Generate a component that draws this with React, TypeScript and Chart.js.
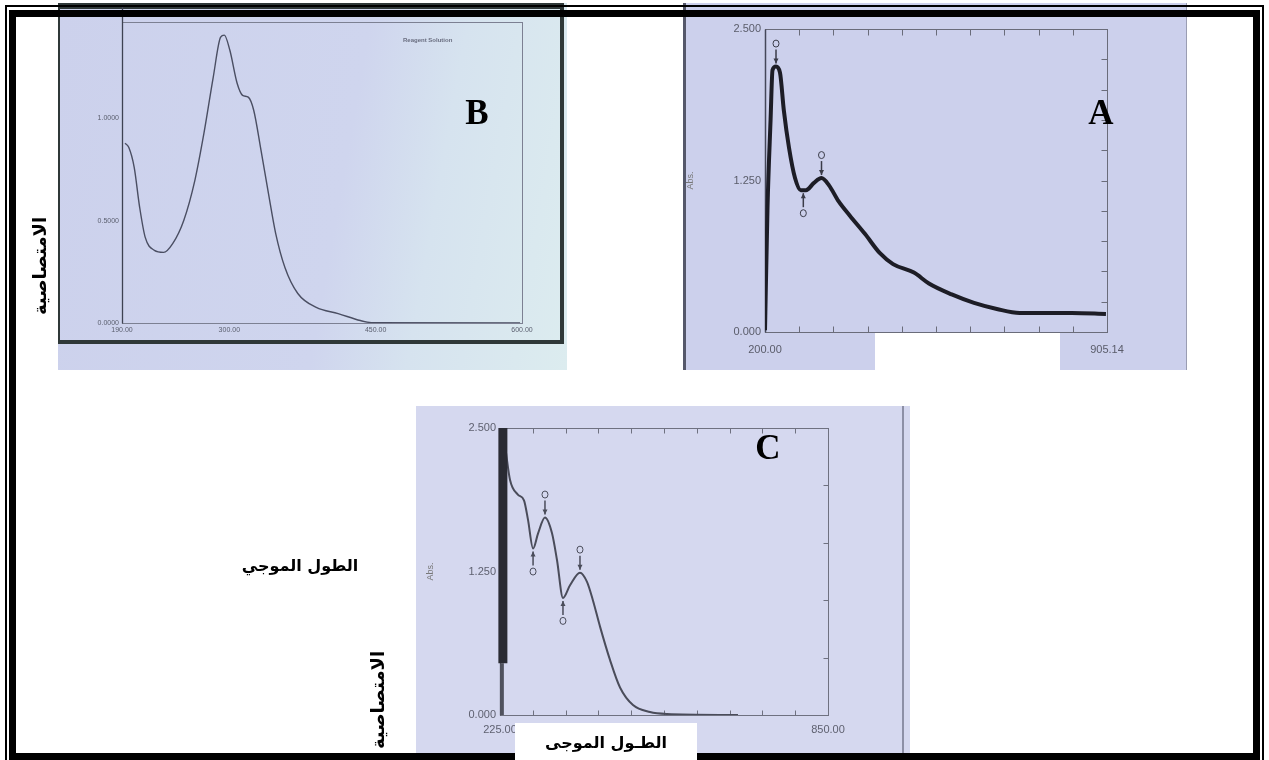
import React, { useEffect, useRef } from "react";
import { Chart, registerables } from "chart.js";

Chart.register(...registerables);

// ---------------- Panel A (top right) ----------------
const aWavelength = [200, 205.2, 211.5, 215.5, 222.7, 230.9, 238.8, 249.5, 261.9, 273.8, 284.5, 301, 316.5, 332, 351.5, 375, 406, 437, 464, 507, 538, 585, 631, 678, 725, 764, 833, 903];
const aAbsorbance = [0.014, 1.03, 1.75, 2.16, 2.19, 2.14, 1.83, 1.52, 1.27, 1.17, 1.17, 1.23, 1.27, 1.21, 1.08, 0.96, 0.81, 0.65, 0.56, 0.49, 0.40, 0.31, 0.24, 0.19, 0.157, 0.157, 0.157, 0.149];
const aXTicks = [200, 905.14];
const aXTickLabels = ["200.00", "905.14"];
const aYTicks = [0, 1.25, 2.5];
const aYTickLabels = ["0.000", "1.250", "2.500"];
const aMarkX = [222.7, 279, 316.5];
const aMarkY = [2.19, 1.17, 1.27];
const aMarkUp = [true, false, true];

// ---------------- Panel B (top left) ----------------
const bWavelength = [193.1, 196.9, 202.5, 208.1, 213.8, 223.2, 232.6, 242.1, 253.3, 264.7, 274, 283.5, 291.1, 294.9, 300.5, 308, 313.6, 319.4, 325, 332.5, 340.1, 347.5, 357, 370.2, 389.1, 411.6, 434.3, 445.5, 598];
const bAbsorbance = [0.878, 0.858, 0.76, 0.565, 0.418, 0.355, 0.345, 0.389, 0.501, 0.697, 0.927, 1.2, 1.396, 1.406, 1.333, 1.171, 1.112, 1.103, 1.039, 0.843, 0.633, 0.438, 0.271, 0.144, 0.076, 0.046, 0.012, 0.002, 0];
const bXTicks = [190, 300, 450, 600];
const bXTickLabels = ["190.00", "300.00", "450.00", "600.00"];
const bYTicks = [0, 0.5, 1.0];
const bYTickLabels = ["0.0000", "0.5000", "1.0000"];

// ---------------- Panel C (bottom) ----------------
const cWavelength = [236, 244, 259, 270.7, 278.4, 288, 297.4, 310.7, 324, 333.6, 345, 358.4, 377.4, 390.8, 402, 415.6, 434.6, 453.7, 478.4, 510.8, 543, 678.5];
const cAbsorbance = [2.3, 2.05, 1.92, 1.87, 1.7, 1.45, 1.58, 1.72, 1.585, 1.35, 1.02, 1.13, 1.24, 1.16, 1.0, 0.77, 0.48, 0.24, 0.087, 0.026, 0.009, 0];
const cNoiseX = [230.5, 230.5];
const cNoiseY = [2.5, 0.45];
const cNoiseTailX = [229.5, 229.5];
const cNoiseTailY = [0.45, 0];
const cXTicks = [225, 850];
const cXTickLabels = ["225.00", "850.00"];
const cYTicks = [0, 1.25, 2.5];
const cYTickLabels = ["0.000", "1.250", "2.500"];
const cMarkX = [288, 310.7, 345, 377.4];
const cMarkY = [1.45, 1.72, 1.02, 1.24];
const cMarkUp = [false, true, false, true];

type Deco = {
  frameColor: string;
  frameWidth: number;
  leftColor?: string;
  leftWidth?: number;
  leftExtendTop?: number;
  tickColor?: string;
  tickLen?: number;
  xDiv?: number;
  yDiv?: number;
  markX?: number[];
  markY?: number[];
  markUp?: boolean[];
  markColor?: string;
};

function makeDeco(d: Deco) {
  return {
    id: "deco",
    beforeDatasetsDraw(chart: any) {
      const { ctx, chartArea: ca, scales } = chart;
      const xs = scales.x;
      const ys = scales.y;
      const L = Math.round(ca.left) + 0.5;
      const T = Math.round(ca.top) + 0.5;
      const R = Math.round(ca.right) + 0.5;
      const B = Math.round(ca.bottom) + 0.5;
      ctx.save();
      ctx.strokeStyle = d.frameColor;
      ctx.lineWidth = d.frameWidth;
      ctx.strokeRect(L, T, R - L, B - T);
      if (d.leftColor) {
        ctx.strokeStyle = d.leftColor;
        ctx.lineWidth = d.leftWidth || 1;
        ctx.beginPath();
        ctx.moveTo(L, d.leftExtendTop !== undefined ? d.leftExtendTop : T);
        ctx.lineTo(L, B);
        ctx.stroke();
      }
      if (d.tickColor) {
        const len = d.tickLen || 5;
        ctx.strokeStyle = d.tickColor;
        ctx.lineWidth = 1;
        ctx.beginPath();
        if (d.xDiv) {
          for (let i = 1; i < d.xDiv; i++) {
            const v = xs.min + ((xs.max - xs.min) * i) / d.xDiv;
            const px = Math.round(xs.getPixelForValue(v)) + 0.5;
            ctx.moveTo(px, T);
            ctx.lineTo(px, T + len);
            ctx.moveTo(px, B);
            ctx.lineTo(px, B - len);
          }
        }
        if (d.yDiv) {
          for (let i = 1; i < d.yDiv; i++) {
            const v = ys.min + ((ys.max - ys.min) * i) / d.yDiv;
            const py = Math.round(ys.getPixelForValue(v)) + 0.5;
            ctx.moveTo(R, py);
            ctx.lineTo(R - len, py);
          }
        }
        ctx.stroke();
      }
      ctx.restore();
    },
    afterDatasetsDraw(chart: any) {
      if (!d.markX) return;
      const { ctx, scales } = chart;
      const xs = scales.x;
      const ys = scales.y;
      ctx.save();
      ctx.strokeStyle = d.markColor || "#333";
      ctx.fillStyle = d.markColor || "#333";
      ctx.lineWidth = 1.5;
      d.markX.forEach((mx, i) => {
        const px = xs.getPixelForValue(mx);
        const py = ys.getPixelForValue(d.markY![i]);
        const dir = d.markUp![i] ? -1 : 1;
        const y0 = py + dir * 3;
        const y1 = py + dir * 17;
        ctx.beginPath();
        ctx.moveTo(px, y0);
        ctx.lineTo(px, y1);
        ctx.stroke();
        ctx.beginPath();
        ctx.moveTo(px, y0);
        ctx.lineTo(px - 2.5, y0 + dir * 5);
        ctx.lineTo(px + 2.5, y0 + dir * 5);
        ctx.closePath();
        ctx.fill();
        ctx.beginPath();
        ctx.ellipse(px, y1 + dir * 6, 3, 3.5, 0, 0, Math.PI * 2);
        ctx.lineWidth = 1;
        ctx.stroke();
        ctx.lineWidth = 1.5;
      });
      ctx.restore();
    },
  };
}

type PanelCfg = {
  width: number;
  height: number;
  plotLeft: number;
  plotTop: number;
  plotRight: number;
  plotBottom: number;
  xMin: number;
  xMax: number;
  yMin: number;
  yMax: number;
  xTicks: number[];
  xTickLabels: string[];
  yTicks: number[];
  yTickLabels: string[];
  fontSize: number;
  tickColor: string;
  xPad: number;
  yPad: number;
  yTitle?: string;
  yTitleSize?: number;
  yTitlePad?: number;
  datasets: any[];
  deco: Deco;
};

function toPoints(xs: number[], ys: number[]) {
  return xs.map((x, i) => ({ x, y: ys[i] }));
}

function buildChart(canvas: HTMLCanvasElement, p: PanelCfg) {
  return new Chart(canvas, {
    type: "line",
    data: { datasets: p.datasets },
    options: {
      animation: false,
      responsive: false,
      devicePixelRatio: 1,
      events: [],
      layout: { padding: { left: 0, top: p.plotTop, right: p.width - p.plotRight, bottom: 0 } },
      plugins: { legend: { display: false }, tooltip: { enabled: false } },
      scales: {
        x: {
          type: "linear",
          min: p.xMin,
          max: p.xMax,
          grid: { display: false, drawTicks: false },
          border: { display: false },
          afterBuildTicks: (s: any) => {
            s.ticks = p.xTicks.map((v) => ({ value: v }));
          },
          afterFit: (s: any) => {
            s.height = p.height - p.plotBottom;
          },
          ticks: {
            autoSkip: false,
            maxRotation: 0,
            padding: p.xPad,
            color: p.tickColor,
            font: { family: '"Liberation Sans", Arial, sans-serif', size: p.fontSize },
            callback: (_v: any, i: number) => p.xTickLabels[i],
          },
        },
        y: {
          type: "linear",
          min: p.yMin,
          max: p.yMax,
          grid: { display: false, drawTicks: false },
          border: { display: false },
          afterBuildTicks: (s: any) => {
            s.ticks = p.yTicks.map((v) => ({ value: v }));
          },
          afterFit: (s: any) => {
            s.width = p.plotLeft;
          },
          title: p.yTitle
            ? {
                display: true,
                text: p.yTitle,
                color: "#777",
                padding: { top: p.yTitlePad || 0, bottom: 0 },
                font: { family: '"Liberation Sans", Arial, sans-serif', size: p.yTitleSize || 9 },
              }
            : { display: false },
          ticks: {
            autoSkip: false,
            padding: p.yPad,
            color: p.tickColor,
            font: { family: '"Liberation Sans", Arial, sans-serif', size: p.fontSize },
            callback: (_v: any, i: number) => p.yTickLabels[i],
          },
        },
      },
    } as any,
    plugins: [makeDeco(p.deco) as any],
  });
}

const panelA: PanelCfg = {
  width: 504,
  height: 367,
  plotLeft: 82,
  plotTop: 26,
  plotRight: 424,
  plotBottom: 329,
  xMin: 200,
  xMax: 905.14,
  yMin: 0,
  yMax: 2.5,
  xTicks: aXTicks,
  xTickLabels: aXTickLabels,
  yTicks: aYTicks,
  yTickLabels: aYTickLabels,
  fontSize: 11,
  tickColor: "#5a5c6a",
  xPad: 11,
  yPad: 4,
  yTitle: "Abs.",
  yTitleSize: 9,
  yTitlePad: 2,
  datasets: [
    {
      data: toPoints(aWavelength, aAbsorbance),
      borderColor: "#1d1d26",
      borderWidth: 4,
      pointRadius: 0,
      fill: false,
      cubicInterpolationMode: "monotone",
    },
  ],
  deco: {
    frameColor: "#6a6c7a",
    frameWidth: 1,
    leftColor: "#45475a",
    leftWidth: 1.5,
    tickColor: "#6a6c7a",
    tickLen: 6,
    xDiv: 10,
    yDiv: 10,
    markX: aMarkX,
    markY: aMarkY,
    markUp: aMarkUp,
    markColor: "#3a3b48",
  },
};

const panelB: PanelCfg = {
  width: 509,
  height: 367,
  plotLeft: 64,
  plotTop: 19,
  plotRight: 464,
  plotBottom: 320,
  xMin: 190,
  xMax: 600,
  yMin: 0,
  yMax: 1.47,
  xTicks: bXTicks,
  xTickLabels: bXTickLabels,
  yTicks: bYTicks,
  yTickLabels: bYTickLabels,
  fontSize: 7,
  tickColor: "#5c6070",
  xPad: 3,
  yPad: 3,
  datasets: [
    {
      data: toPoints(bWavelength, bAbsorbance),
      borderColor: "#4a4e62",
      borderWidth: 1.4,
      pointRadius: 0,
      fill: false,
      cubicInterpolationMode: "monotone",
    },
  ],
  deco: {
    frameColor: "#7c8092",
    frameWidth: 1,
    leftColor: "#3e4252",
    leftWidth: 1.3,
    leftExtendTop: 2,
  },
};

const panelC: PanelCfg = {
  width: 494,
  height: 354,
  plotLeft: 84,
  plotTop: 22,
  plotRight: 412,
  plotBottom: 309,
  xMin: 225,
  xMax: 850,
  yMin: 0,
  yMax: 2.5,
  xTicks: cXTicks,
  xTickLabels: cXTickLabels,
  yTicks: cYTicks,
  yTickLabels: cYTickLabels,
  fontSize: 11,
  tickColor: "#5f6170",
  xPad: 8,
  yPad: 4,
  yTitle: "Abs.",
  yTitleSize: 9,
  yTitlePad: 9,
  datasets: [
    {
      data: toPoints(cNoiseX, cNoiseY),
      borderColor: "#2a2b33",
      borderWidth: 9,
      pointRadius: 0,
      fill: false,
      clip: false,
    },
    {
      data: toPoints(cNoiseTailX, cNoiseTailY),
      borderColor: "#50525e",
      borderWidth: 3,
      pointRadius: 0,
      fill: false,
      clip: false,
    },
    {
      data: toPoints(cWavelength, cAbsorbance),
      borderColor: "#4a4c5a",
      borderWidth: 2,
      pointRadius: 0,
      fill: false,
      cubicInterpolationMode: "monotone",
    },
  ],
  deco: {
    frameColor: "#6f7180",
    frameWidth: 1,
    leftColor: "#50525e",
    leftWidth: 1.3,
    tickColor: "#6f7180",
    tickLen: 5,
    xDiv: 10,
    yDiv: 5,
    markX: cMarkX,
    markY: cMarkY,
    markUp: cMarkUp,
    markColor: "#4a4c5a",
  },
};

const arabicFont = '"DejaVu Sans", "Noto Sans", sans-serif';

function VLabel({ cx, cy, size, text }: { cx: number; cy: number; size: number; text: string }) {
  return (
    <div
      dir="rtl"
      style={{
        position: "absolute",
        left: cx,
        top: cy,
        transform: "translate(-50%, -50%) rotate(-90deg)",
        whiteSpace: "nowrap",
        fontFamily: arabicFont,
        fontWeight: "bold",
        fontSize: size,
        lineHeight: 1,
        color: "#000",
      }}
    >
      {text}
    </div>
  );
}

function Letter({ cx, cy, text }: { cx: number; cy: number; text: string }) {
  return (
    <div
      style={{
        position: "absolute",
        left: cx,
        top: cy,
        transform: "translate(-50%, -50%)",
        fontFamily: '"Liberation Serif", "Times New Roman", serif',
        fontWeight: "bold",
        fontSize: 35,
        lineHeight: 1,
        color: "#000",
      }}
    >
      {text}
    </div>
  );
}

export default function App() {
  const aRef = useRef<HTMLCanvasElement>(null);
  const bRef = useRef<HTMLCanvasElement>(null);
  const cRef = useRef<HTMLCanvasElement>(null);

  useEffect(() => {
    const charts = [
      buildChart(aRef.current as HTMLCanvasElement, panelA),
      buildChart(bRef.current as HTMLCanvasElement, panelB),
      buildChart(cRef.current as HTMLCanvasElement, panelC),
    ];
    return () => charts.forEach((c) => c.destroy());
  }, []);

  return (
    <div
      style={{
        position: "fixed",
        left: 0,
        top: 0,
        width: 1269,
        height: 760,
        background: "#ffffff",
        overflow: "hidden",
      }}
    >
      {/* Panel B */}
      <div
        style={{
          position: "absolute",
          left: 58,
          top: 3,
          width: 509,
          height: 367,
          background: "linear-gradient(100deg, #ccd1ec 0%, #cfd5ee 55%, #d6e3ef 72%, #dcecef 100%)",
        }}
      >
        <div
          style={{
            position: "absolute",
            left: 0,
            top: 0,
            width: 506,
            height: 341,
            boxSizing: "border-box",
            borderStyle: "solid",
            borderColor: "#2f3838",
            borderWidth: "6px 4px 4px 2px",
          }}
        />
        <canvas ref={bRef} width={509} height={367} style={{ position: "absolute", left: 0, top: 0 }} />
        <div
          style={{
            position: "absolute",
            left: 345,
            top: 34,
            fontFamily: '"Liberation Sans", Arial, sans-serif',
            fontSize: 6,
            fontWeight: "bold",
            color: "#6a6e80",
            whiteSpace: "nowrap",
          }}
        >
          Reagent Solution
        </div>
        <Letter cx={419} cy={109} text="B" />
      </div>

      {/* Panel A */}
      <div
        style={{
          position: "absolute",
          left: 683,
          top: 3,
          width: 504,
          height: 367,
          background: "#ccd0ec",
          boxSizing: "border-box",
          borderLeft: "3px solid #55586a",
          borderRight: "1px solid #9a9db2",
        }}
      >
        <canvas ref={aRef} width={504} height={367} style={{ position: "absolute", left: -3, top: 0 }} />
        <Letter cx={415} cy={109} text="A" />
      </div>
      <div style={{ position: "absolute", left: 875, top: 333, width: 185, height: 37, background: "#ffffff" }} />

      {/* Panel C */}
      <div
        style={{
          position: "absolute",
          left: 416,
          top: 406,
          width: 494,
          height: 354,
          background: "#d5d8ef",
        }}
      >
        <div style={{ position: "absolute", left: 486, top: 0, width: 2, height: 354, background: "#8d90a6" }} />
        <canvas ref={cRef} width={494} height={354} style={{ position: "absolute", left: 0, top: 0 }} />
        <Letter cx={352} cy={41} text="C" />
      </div>

      {/* Page frame */}
      <div
        style={{
          position: "absolute",
          left: 5,
          top: 5,
          width: 1259,
          height: 800,
          boxSizing: "border-box",
          border: "2px solid #000",
        }}
      />
      <div
        style={{
          position: "absolute",
          left: 9,
          top: 10,
          width: 1251,
          height: 750,
          boxSizing: "border-box",
          border: "7px solid #000",
        }}
      />

      {/* Box covering bottom of C */}
      <div
        style={{
          position: "absolute",
          left: 515,
          top: 723,
          width: 182,
          height: 37,
          background: "#ffffff",
        }}
      />
      <div
        dir="rtl"
        style={{
          position: "absolute",
          left: 606,
          top: 743,
          transform: "translate(-50%, -50%)",
          whiteSpace: "nowrap",
          fontFamily: arabicFont,
          fontWeight: "bold",
          fontSize: 16,
          lineHeight: 1,
          color: "#000",
        }}
      >
        الطـول الموجى
      </div>

      {/* Arabic axis labels */}
      <VLabel cx={40} cy={266} size={18} text="الامتصاصية" />
      <div
        dir="rtl"
        style={{
          position: "absolute",
          left: 300,
          top: 566,
          transform: "translate(-50%, -50%)",
          whiteSpace: "nowrap",
          fontFamily: arabicFont,
          fontWeight: "bold",
          fontSize: 16,
          lineHeight: 1,
          color: "#000",
        }}
      >
        الطول الموجي
      </div>
      <VLabel cx={378} cy={700} size={18} text="الامتصاصية" />
    </div>
  );
}
